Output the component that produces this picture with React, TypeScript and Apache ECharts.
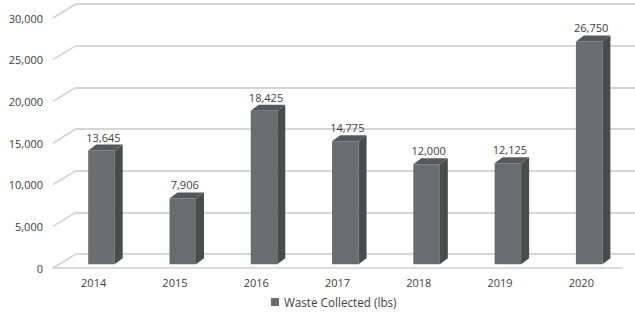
import React, { useEffect, useRef } from "react";
import * as echarts from "echarts";

const years = ["2014", "2015", "2016", "2017", "2018", "2019", "2020"];
const waste = [13645, 7906, 18425, 14775, 12000, 12125, 26750];
const yTicks = [0, 5000, 10000, 15000, 20000, 25000, 30000];
const seriesName = "Waste Collected (lbs)";

const fmt = (v: number) => v.toLocaleString("en-US");

export default function App() {
  const ref = useRef<HTMLDivElement>(null);
  useEffect(() => {
    if (!ref.current) return;
    const chart = echarts.init(ref.current, undefined, { renderer: "svg" });
    const font = '"Open Sans", "DejaVu Sans", sans-serif';
    const DX = 23, DY = -14; // wall depth offset
    chart.setOption({
      animation: false,
      backgroundColor: "#ffffff",
      textStyle: { fontFamily: font },
      grid: [
        { left: 53, right: 13, top: 18, bottom: 48 },
        { left: 76, right: 0, top: 4, bottom: 62 },
      ],
      xAxis: [
        {
          gridIndex: 0,
          type: "category",
          data: years,
          axisLine: { show: true, lineStyle: { color: "#d0d0d0", width: 1.5 } },
          axisTick: { show: false },
          axisLabel: { color: "#404040", fontSize: 11, fontFamily: font, margin: 9 },
        },
        {
          gridIndex: 1,
          type: "category",
          data: years,
          show: false,
        },
      ],
      yAxis: [
        {
          gridIndex: 0,
          type: "value",
          min: 0,
          max: 30000,
          interval: 5000,
          axisLine: { show: false },
          axisTick: { show: false },
          splitLine: { show: false },
          axisLabel: {
            color: "#404040",
            fontSize: 11,
            fontFamily: font,
            margin: 10,
            formatter: (v: number) => fmt(v),
          },
        },
        {
          gridIndex: 1,
          type: "value",
          min: 0,
          max: 30000,
          interval: 5000,
          axisLine: { show: false },
          axisTick: { show: false },
          axisLabel: { show: false },
          splitLine: { show: true, lineStyle: { color: "#d6d6d6", width: 2 } },
        },
      ],
      legend: {
        data: [seriesName],
        bottom: 3,
        left: 266,
        icon: "rect",
        itemWidth: 8,
        itemHeight: 8,
        itemGap: 4,
        textStyle: { color: "#404040", fontSize: 11.7, fontFamily: font },
      },
      series: [
        {
          name: "diagonals",
          type: "custom",
          xAxisIndex: 0,
          yAxisIndex: 0,
          silent: true,
          z: 1,
          data: yTicks.map((v) => [0, v]),
          renderItem: (params: any, api: any) => {
            const y = api.coord([0, api.value(1)])[1];
            const x = params.coordSys.x;
            return {
              type: "line",
              shape: { x1: x, y1: y, x2: x + DX, y2: y + DY },
              style: { stroke: "#d0d0d0", lineWidth: 1.5 },
            };
          },
        },
        {
          name: seriesName,
          type: "custom",
          xAxisIndex: 0,
          yAxisIndex: 0,
          z: 3,
          itemStyle: { color: "#6b6c6f" },
          data: waste.map((v, i) => [i, v]),
          renderItem: (params: any, api: any) => {
            const i = api.value(0);
            const v = api.value(1);
            const base = api.coord([i, 0]);
            const top = api.coord([i, v]);
            const w = 26.5;
            const cx = base[0] + 7.8;
            const x0 = cx - w / 2;
            const x1 = cx + w / 2;
            const yb = base[1] - 3.7;
            const yt = top[1] - 3.7;
            const dx = 8, dy = -6;
            return {
              type: "group",
              children: [
                {
                  type: "rect",
                  shape: { x: x0, y: yt, width: w, height: yb - yt },
                  style: { fill: "#6b6c6f" },
                },
                {
                  type: "polygon",
                  shape: { points: [[x1, yt], [x1 + dx, yt + dy], [x1 + dx, yb + dy], [x1, yb]] },
                  style: { fill: "#4a4b4d" },
                },
                {
                  type: "polygon",
                  shape: { points: [[x0, yt], [x0 + dx, yt + dy], [x1 + dx, yt + dy], [x1, yt]] },
                  style: { fill: "#57585a" },
                },
                {
                  type: "text",
                  x: cx + 2,
                  y: yt + dy - 2,
                  style: {
                    text: fmt(v),
                    fill: "#404040",
                    fontSize: 11,
                    fontFamily: font,
                    align: "center",
                    verticalAlign: "bottom",
                  },
                },
              ],
            };
          },
        },
      ],
    });
    return () => chart.dispose();
  }, []);
  return (
    <div
      ref={ref}
      style={{ position: "fixed", left: 0, top: 0, width: 635, height: 316 }}
    />
  );
}
